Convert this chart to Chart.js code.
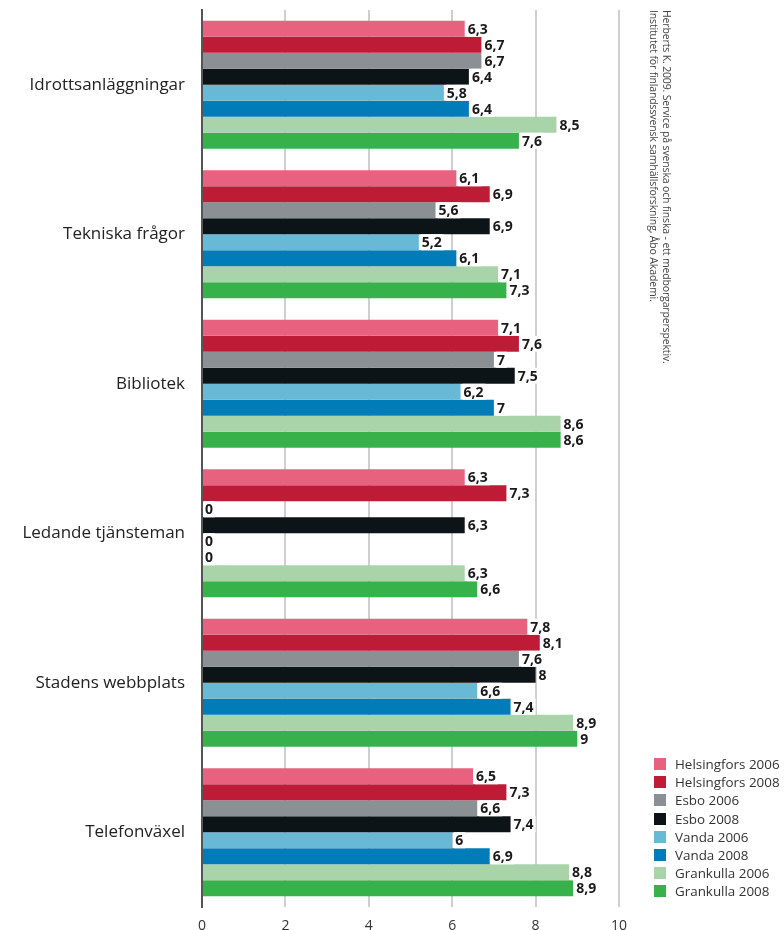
<!DOCTYPE html>
<html>
<head>
<meta charset="utf-8">
<script src="https://cdn.jsdelivr.net/npm/chart.js@4/dist/chart.umd.min.js"></script>
<style>
  html, body { margin: 0; padding: 0; background: #fff; }
  #wrap { position: relative; width: 784px; height: 930px; }
  #source {
    position: absolute; left: 647px; top: 10px;
    writing-mode: vertical-rl;
    font-family: "Open Sans", sans-serif; font-size: 10.5px; line-height: 13px;
    color: #444; letter-spacing: -0.15px;
  }
  #legend { position: absolute; left: 654px; top: 755px; font-family: "Open Sans", sans-serif; font-size: 13.4px; color: #333; }
  #legend div { height: 18.2px; line-height: 18px; white-space: nowrap; }
  #legend span { display: inline-block; width: 12px; height: 12px; margin-right: 9px; vertical-align: -1px; }
</style>
</head>
<body>
<div id="wrap">
  <canvas id="Chart" width="784" height="930"></canvas>
  <div id="source">Herberts K. 2009. Service på svenska och finska - ett medborgarperspektiv.<br>Institutet för finlandssvensk samhällsforskning, Åbo Akademi.</div>
  <div id="legend"></div>
</div>
<script>
var categories = ['Idrottsanläggningar', 'Tekniska frågor', 'Bibliotek', 'Ledande tjänsteman', 'Stadens webbplats', 'Telefonväxel'];
var seriesNames = ['Helsingfors 2006', 'Helsingfors 2008', 'Esbo 2006', 'Esbo 2008', 'Vanda 2006', 'Vanda 2008', 'Grankulla 2006', 'Grankulla 2008'];
var colors = ['#E8627F', '#BE1C36', '#8A9093', '#0D1417', '#67B9D6', '#007DB8', '#A9D3A9', '#37B24A'];

var helsingfors2006 = [6.3, 6.1, 7.1, 6.3, 7.8, 6.5];
var helsingfors2008 = [6.7, 6.9, 7.6, 7.3, 8.1, 7.3];
var esbo2006 = [6.7, 5.6, 7, 0, 7.6, 6.6];
var esbo2008 = [6.4, 6.9, 7.5, 6.3, 8, 7.4];
var vanda2006 = [5.8, 5.2, 6.2, 0, 6.6, 6];
var vanda2008 = [6.4, 6.1, 7, 0, 7.4, 6.9];
var grankulla2006 = [8.5, 7.1, 8.6, 6.3, 8.9, 8.8];
var grankulla2008 = [7.6, 7.3, 8.6, 6.6, 9, 8.9];
var xTicks = [0, 2, 4, 6, 8, 10];

var seriesValues = [helsingfors2006, helsingfors2008, esbo2006, esbo2008, vanda2006, vanda2008, grankulla2006, grankulla2008];

// value labels after each bar, comma decimals
var barLabels = {
  id: 'barLabels',
  afterDatasetsDraw: function(chart) {
    var ctx = chart.ctx;
    ctx.save();
    ctx.font = 'bold 14px "Open Sans", sans-serif';
    ctx.textBaseline = 'middle';
    chart.data.datasets.forEach(function(ds, i) {
      chart.getDatasetMeta(i).data.forEach(function(bar, j) {
        var txt = String(ds.data[j]).replace('.', ',');
        var w = ctx.measureText(txt).width;
        var x = bar.x + 2;
        ctx.fillStyle = '#fff';
        ctx.fillRect(x, bar.y - 8, w + 3, 16);
        ctx.fillStyle = '#1a1a1a';
        ctx.fillText(txt, x + 1, bar.y + 1);
      });
    });
    ctx.restore();
  }
};

var chart = new Chart('Chart', {
  type: 'bar',
  data: {
    labels: categories,
    datasets: seriesNames.map(function(name, i) {
      return {
        label: name,
        data: seriesValues[i],
        backgroundColor: colors[i],
        barPercentage: 1,
        categoryPercentage: 0.856
      };
    })
  },
  options: {
    indexAxis: 'y',
    responsive: false,
    animation: false,
    layout: { padding: { top: 10, right: 165, left: 0, bottom: 0 } },
    plugins: { legend: { display: false }, tooltip: { enabled: false } },
    scales: {
      x: {
        min: 0, max: 10,
        afterBuildTicks: function(axis) { axis.ticks = xTicks.map(function(v) { return { value: v }; }); },
        grid: { color: '#cfcfcf', lineWidth: 2, drawTicks: false },
        border: { display: false },
        ticks: { padding: 11, color: '#333', font: { family: 'Open Sans', size: 14 } },
        afterFit: function(axis) { axis.height = 23; axis.paddingLeft = 0; axis.paddingRight = 0; }
      },
      y: {
        grid: { display: false, drawTicks: false },
        border: { color: '#555', width: 2 },
        ticks: { padding: 17, color: '#222', font: { family: 'Open Sans', size: 17 } },
        afterFit: function(axis) { axis.width = 202; axis.paddingTop = 0; axis.paddingBottom = 0; }
      }
    }
  },
  plugins: [barLabels]
});

var legend = document.getElementById('legend');
seriesNames.forEach(function(name, i) {
  var row = document.createElement('div');
  row.innerHTML = '<span style="background:' + colors[i] + '"></span>' + name;
  legend.appendChild(row);
});
</script>
</body>
</html>
